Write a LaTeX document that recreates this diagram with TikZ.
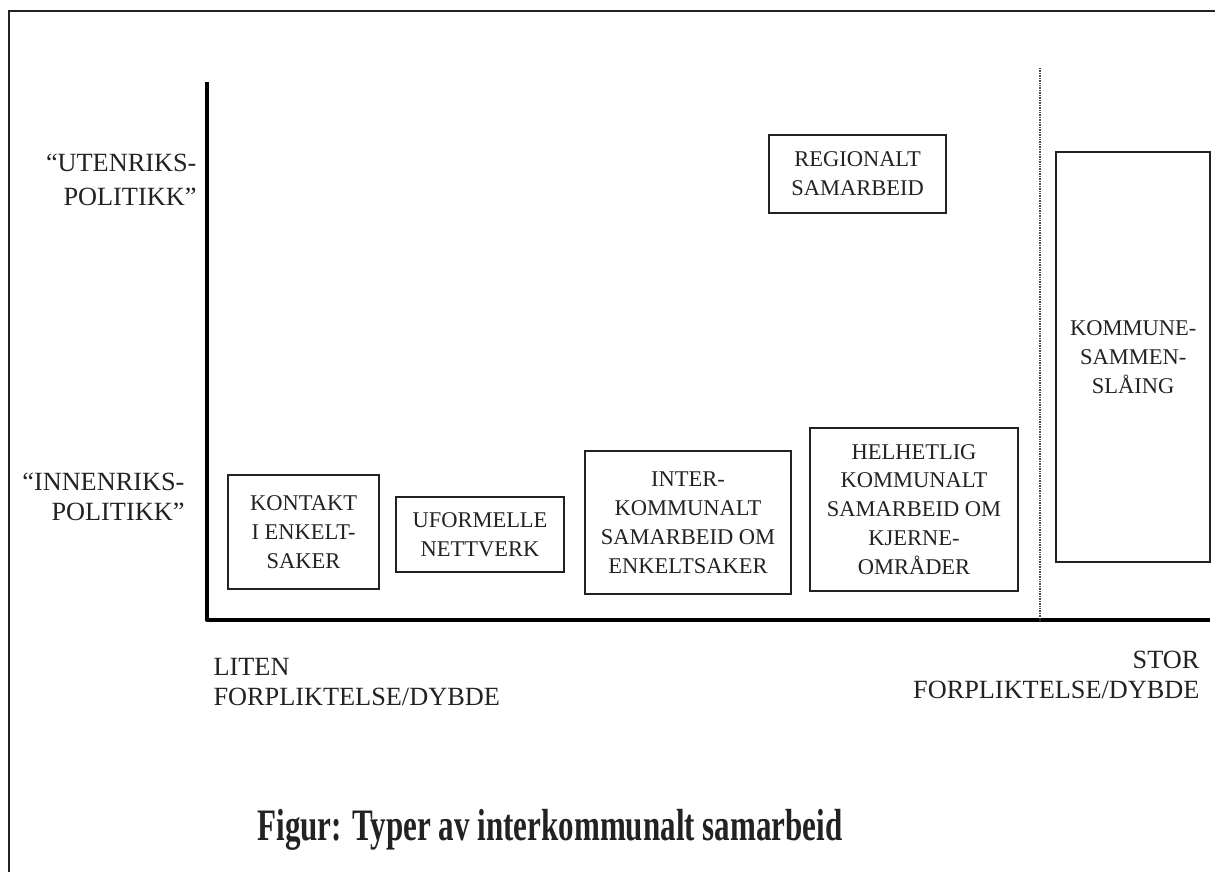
\documentclass[tikz,border=0pt]{standalone}
\usepackage{fontspec}
\setmainfont{Liberation Serif}
\usepackage{graphicx}
\definecolor{ink}{HTML}{222222}

\begin{document}
\begin{tikzpicture}[thick]
\tikzstyle{box}=[draw=ink,line width=1.6pt,text=ink,align=center,inner sep=2pt,font=\fontsize{16}{20.6}\selectfont]
\tikzstyle{axislabel}=[text=ink,inner sep=0pt,font=\fontsize{18.7}{21.5}\selectfont]
  \useasboundingbox (0,0) rectangle (30.375,21.8);
  % page frame
  \draw[line width=1.4pt,ink] (0.225,0) -- (0.225,21.525) -- (30.375,21.525);
  % axes
  \coordinate (top) at (5.175,19.75);
  \coordinate (origin) at (5.175,6.3);
  \coordinate (right) at (30.25,6.3);
  \draw[line width=2.8pt,line join=round] (top) -- (origin) -- (right);
  % dividing line
  \coordinate (divtop) at (26.0,20.1);
  \coordinate (divbot) at (26.0,6.3);
  \draw[line width=2pt,draw=gray!60!black,dash pattern=on 0.7pt off 0.5pt] (divtop) -- (divbot);
  % boxes
  \foreach \place/\name/\w/\h/\txt in {{(7.59,8.50)/kontakt/3.78/2.85/KONTAKT\\I ENKELT-\\SAKER},
                                       {(12.00,8.44)/uformelle/4.20/1.88/UFORMELLE\\NETTVERK},
                                       {(17.20,8.74)/inter/5.15/3.58/INTER-\\KOMMUNALT\\SAMARBEID OM\\ENKELTSAKER},
                                       {(22.85,9.06)/helhet/5.20/4.08/HELHETLIG\\KOMMUNALT\\SAMARBEID OM\\KJERNE-\\OMRÅDER},
                                       {(21.44,17.45)/regional/4.43/1.95/REGIONALT\\SAMARBEID},
                                       {(28.33,12.88)/kommune/3.85/10.25/KOMMUNE-\\SAMMEN-\\SLÅING}}
    \node[box,minimum width=\w cm,minimum height=\h cm] (\name) at \place {\txt};
  % axis labels
  \node[axislabel,anchor=east,align=right,font=\fontsize{18.7}{24}\selectfont] (uten) at (4.925,17.3) {“UTENRIKS-\\POLITIKK”};
  \node[axislabel,anchor=east,align=right] (innen) at (4.625,9.375) {“INNENRIKS-\\POLITIKK”};
  \node[axislabel,anchor=west,align=left] (liten) at (5.325,4.75) {LITEN\\FORPLIKTELSE/DYBDE};
  \node[axislabel,anchor=east,align=right] (stor) at (30.0,4.925) {STOR\\FORPLIKTELSE/DYBDE};
  % caption
  \node[text=ink,font=\bfseries\fontsize{32}{36}\selectfont] (caption) at (13.75,1.05) {\scalebox{0.69}[1]{Figur: Typer av interkommunalt samarbeid}};
\end{tikzpicture}
\end{document}
